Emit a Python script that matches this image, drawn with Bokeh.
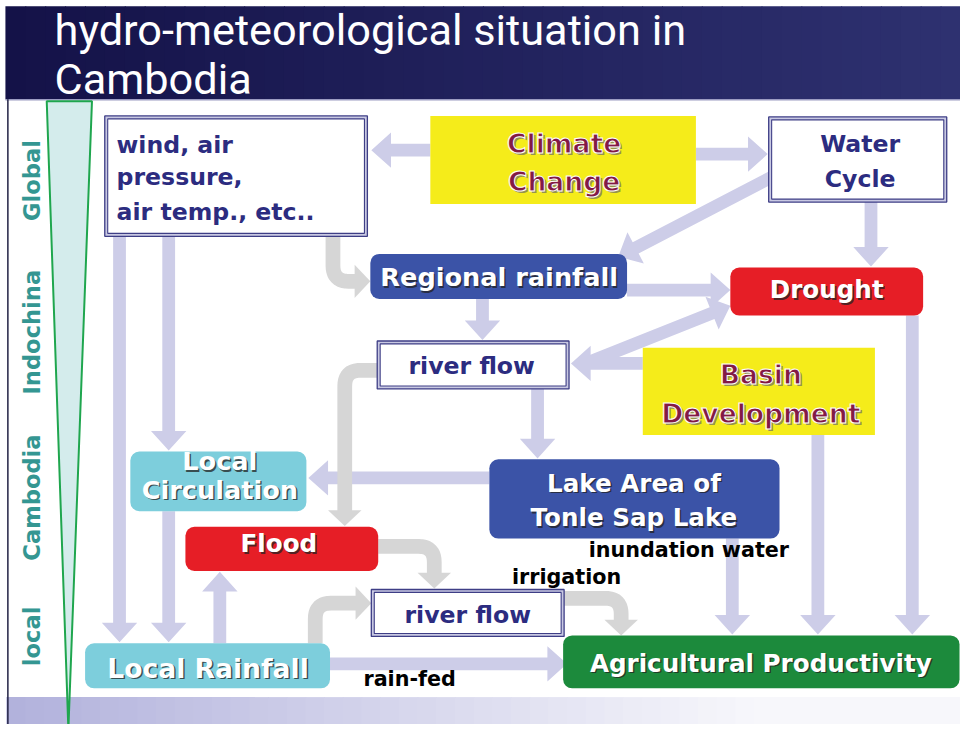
import math
from bokeh.plotting import figure
from bokeh.models import Range1d
from bokeh.core.properties import value
from bokeh.embed import file_html
from bokeh.resources import INLINE

# ---------------- content ----------------
TITLE_LINES = ["hydro-meteorological situation in", "Cambodia"]
SCALE_LABELS = ["Global", "Indochina", "Cambodia", "local"]

NODE_IDS = ["wind", "climate", "water", "regional", "drought", "river1", "basin",
            "localcirc", "lake", "flood", "river2", "localrain", "agri"]
NODE_TEXT = {
    "wind": ["wind, air", "pressure,", "air temp., etc.."],
    "climate": ["Climate", "Change"],
    "water": ["Water", "Cycle"],
    "regional": ["Regional rainfall"],
    "drought": ["Drought"],
    "river1": ["river flow"],
    "basin": ["Basin", "Development"],
    "localcirc": ["Local", "Circulation"],
    "lake": ["Lake Area of", "Tonle Sap Lake"],
    "flood": ["Flood"],
    "river2": ["river flow"],
    "localrain": ["Local Rainfall"],
    "agri": ["Agricultural Productivity"],
}
EDGE_LABELS = ["inundation water", "irrigation", "rain-fed"]

# links: straight (lavender) and elbow (grey)
STRAIGHT_LINKS = [("climate", "wind"), ("climate", "water"), ("water", "regional"),
                  ("water", "drought"), ("regional", "drought"), ("regional", "river1"),
                  ("river1", "drought"), ("basin", "river1"), ("wind", "localrain"),
                  ("wind", "localcirc"), ("localcirc", "localrain"), ("localrain", "flood"),
                  ("lake", "localcirc"), ("river1", "lake"), ("localrain", "agri"),
                  ("lake", "agri"), ("basin", "agri"), ("drought", "agri")]
ELBOW_LINKS = [("wind", "regional"), ("river1", "flood"), ("flood", "river2"),
               ("localrain", "river2"), ("river2", "agri")]

# ---------------- layout (pixel space of the slide, 976 x 740) ----------------
BOX = {  # left, right, top, bottom
    "wind": (106, 373, 118, 241), "climate": (437, 707, 118, 208),
    "water": (781, 962, 119, 206), "regional": (376, 637, 259, 305),
    "drought": (742, 938, 273, 322), "river1": (383, 578, 348, 397),
    "basin": (653, 889, 355, 444), "localcirc": (132, 311, 461, 522),
    "lake": (497, 792, 469, 550), "flood": (188, 384, 538, 583),
    "river2": (377, 573, 602, 650), "localrain": (86, 335, 657, 703),
    "agri": (572, 975, 649, 703),
}
KIND = {"wind": "double", "water": "double", "river1": "double", "river2": "double",
        "climate": "yellow", "basin": "yellow",
        "regional": "blue", "lake": "blue", "drought": "red", "flood": "red",
        "localcirc": "cyan", "localrain": "cyan", "agri": "green"}
FILL = {"yellow": "#f5ec1a", "blue": "#3b53a7", "red": "#e61e26",
        "cyan": "#7dcedc", "green": "#1c8a3c"}
TEXT_POS = {  # x, align, baselines, size
    "wind": (118, "left", [157, 190, 225], 24),
    "climate": (573, "center", [156, 195], 27),
    "water": (874, "center", [156, 192], 24),
    "regional": (507, "center", [293], 26),
    "drought": (840, "center", [305], 25),
    "river1": (479, "center", [383], 24),
    "basin": (773, "center", [393, 432], 27),
    "localcirc": (223, "center", [481, 510], 26),
    "lake": (644, "center", [503, 538], 25),
    "flood": (283, "center", [565], 25),
    "river2": (475, "center", [637], 24),
    "localrain": (211, "center", [693], 27),
    "agri": (773, "center", [687], 25),
}
EDGE_POS = [(598, 570), (520, 597), (369, 701)]
SCALE_POS = [184, 339, 508, 650]

STRAIGHT_GEOM = [((437, 153), (377, 153)), ((707, 157), (780, 157)),
                 ((785, 180), (628, 262)), ((885, 206), (885, 272)),
                 ((637, 296), (742, 296)), ((490, 305), (490, 347)),
                 ((590, 373), (742, 312)), ((653, 371), (580, 371)),
                 ((121, 241), (121, 656)), ((171, 241), (171, 460)),
                 ((171, 522), (171, 656)), ((223, 657), (223, 584)),
                 ((497, 488), (313, 488)), ((546, 397), (546, 468)),
                 ((335, 678), (576, 678)), ((744, 550), (744, 648)),
                 ((831, 444), (831, 648)), ((927, 322), (927, 648))]
ELBOW_GEOM = [[(338, 241), (338, 287), (376, 287)],
              [(383, 378), (350, 378), (350, 537)],
              [(384, 558), (441, 558), (441, 601)],
              [(320, 657), (320, 616), (377, 616)],
              [(573, 611), (631, 611), (631, 649)]]

W, H = 960, 724
SX = W / 976.0
BASE_SHIFT = 0.38   # renderer places alphabetic baseline ~0.38em low
FONT = value("DejaVu Sans")
NAVY = "#2c2c80"
MAROON = "#821a44"
TEAL = "#349692"
LAVENDER = "#cdcde8"
GREY = "#d6d6d6"


def fs(px):
    return "%.1fpx" % (px * SX)


def by(y, size):
    return y - BASE_SHIFT * size


def lerp_hex(c0, c1, t):
    a = [int(c0[i:i + 2], 16) for i in (1, 3, 5)]
    b = [int(c1[i:i + 2], 16) for i in (1, 3, 5)]
    return "#%02x%02x%02x" % tuple(round(a[k] + (b[k] - a[k]) * t) for k in range(3))


def arrow_poly(p0, p1, w, hw, hl):
    (x0, y0), (x1, y1) = p0, p1
    dx, dy = x1 - x0, y1 - y0
    L = math.hypot(dx, dy)
    ux, uy = dx / L, dy / L
    nx, ny = -uy, ux
    bx, by_ = x1 - ux * hl, y1 - uy * hl
    pts = [(x0 + nx * w / 2, y0 + ny * w / 2), (bx + nx * w / 2, by_ + ny * w / 2),
           (bx + nx * hw / 2, by_ + ny * hw / 2), (x1, y1),
           (bx - nx * hw / 2, by_ - ny * hw / 2), (bx - nx * w / 2, by_ - ny * w / 2),
           (x0 - nx * w / 2, y0 - ny * w / 2)]
    return [q[0] for q in pts], [q[1] for q in pts]


def head_poly(tip, d, hw, hl):
    ux, uy = d
    nx, ny = -uy, ux
    bx, by_ = tip[0] - ux * hl, tip[1] - uy * hl
    return ([bx + nx * hw / 2, tip[0], bx - nx * hw / 2],
            [by_ + ny * hw / 2, tip[1], by_ - ny * hw / 2])


def unit(a, b):
    dx, dy = b[0] - a[0], b[1] - a[1]
    L = math.hypot(dx, dy)
    return dx / L, dy / L


def rounded(pts, r, hl, n=10):
    d_last = unit(pts[-2], pts[-1])
    end = (pts[-1][0] - d_last[0] * hl, pts[-1][1] - d_last[1] * hl)
    P = list(pts[:-1]) + [end]
    out = [P[0]]
    for i in range(1, len(P) - 1):
        d1 = unit(P[i - 1], P[i])
        d2 = unit(P[i], P[i + 1])
        a = (P[i][0] - d1[0] * r, P[i][1] - d1[1] * r)
        c = (P[i][0] + d2[0] * r, P[i][1] + d2[1] * r)
        for k in range(n + 1):
            t = k / n
            out.append(((1 - t) ** 2 * a[0] + 2 * (1 - t) * t * P[i][0] + t * t * c[0],
                        (1 - t) ** 2 * a[1] + 2 * (1 - t) * t * P[i][1] + t * t * c[1]))
    out.append(P[-1])
    return [q[0] for q in out], [q[1] for q in out], d_last


p = figure(width=W, height=H, x_range=Range1d(0, 976), y_range=Range1d(740, 0),
           output_backend="svg", toolbar_location=None, min_border=0)
p.axis.visible = False
p.grid.visible = False
p.outline_line_color = None
p.background_fill_color = "white"
p.border_fill_color = "white"

# bottom lavender strip
N = 40
xs = [6 + i * (760 / N) for i in range(N + 1)]
p.quad(left=xs[:-1], right=[x + 1 for x in xs[1:]], top=712, bottom=740,
       color=[lerp_hex("#b2b2dc", "#f6f6fb", i / (N - 1)) for i in range(N)], line_color=None)
p.quad(left=766, right=976, top=712, bottom=740, color="#f7f7fb", line_color=None)

# title band
N = 48
xs = [5 + i * (971 / N) for i in range(N + 1)]
p.quad(left=xs[:-1], right=[x + 1 for x in xs[1:]], top=6, bottom=101,
       color=[lerp_hex("#141248", "#2e3170", i / (N - 1)) for i in range(N)], line_color=None)
p.segment(x0=5, y0=101.5, x1=976, y1=101.5, line_color="#9c9cc2", line_width=1.5)
p.segment(x0=7.5, y0=101, x1=7.5, y1=740, line_color="#222244", line_width=1.5)

p.text(x=[55, 55], y=[by(47, 44), by(97, 44)], text=TITLE_LINES, text_font=value("Roboto"),
       text_font_size=fs(44), text_color="white", text_baseline="alphabetic")

# scale wedge
p.patch(x=[47, 93, 69], y=[103, 103, 745], fill_color="#d4ecec", line_color="#1fa64e", line_width=2)
p.text(x=[32] * 4, y=SCALE_POS, text=SCALE_LABELS, angle=math.pi / 2, text_font=FONT,
       text_font_style="bold", text_font_size=fs(23), text_color=TEAL,
       text_align="center", text_baseline="middle")

# straight lavender arrows
axs, ays = [], []
for (a, b), (p0, p1) in zip(STRAIGHT_LINKS, STRAIGHT_GEOM):
    X, Y = arrow_poly(p0, p1, 13, 36, 20)
    axs.append(X)
    ays.append(Y)
p.patches(xs=axs, ys=ays, fill_color=LAVENDER, line_color=None)

# grey elbow arrows
lxs, lys, hxs, hys = [], [], [], []
for (a, b), pts in zip(ELBOW_LINKS, ELBOW_GEOM):
    X, Y, d = rounded(pts, 16, 14)
    lxs.append(X)
    lys.append(Y)
    hx, hy = head_poly(pts[-1], d, 34, 16)
    hxs.append(hx)
    hys.append(hy)
p.multi_line(xs=lxs, ys=lys, line_color=GREY, line_width=15 * SX, line_join="round")
p.patches(xs=hxs, ys=hys, fill_color=GREY, line_color=None)

# boxes
for nid in NODE_IDS:
    l, r, t, b = BOX[nid]
    k = KIND[nid]
    if k == "double":
        p.quad(left=l, right=r, top=t, bottom=b, fill_color="#c8c8e2", line_color="#3e3e86", line_width=1.3)
        p.quad(left=l + 3, right=r - 3, top=t + 3, bottom=b - 3, fill_color="white",
               line_color="#3e3e86", line_width=1.1)
    elif k == "yellow":
        p.quad(left=l, right=r, top=t, bottom=b, fill_color=FILL[k], line_color=None)
    else:
        p.quad(left=l, right=r, top=t, bottom=b, fill_color=FILL[k], line_color=None,
               border_radius=9)

# node texts
for nid in NODE_IDS:
    x, align, ys, size = TEXT_POS[nid]
    ys = [by(y, size) for y in ys]
    lines = NODE_TEXT[nid]
    k = KIND[nid]
    common = dict(text_font=FONT, text_font_style="bold", text_font_size=fs(size),
                  text_align=align, text_baseline="alphabetic")
    if k == "double":
        p.text(x=[x] * len(lines), y=ys, text=lines, text_color=NAVY, **common)
    elif k == "yellow":
        p.text(x=[x + 2] * len(lines), y=[y + 2 for y in ys], text=lines,
               text_color="#6a6a6a", text_alpha=0.7, **common)
        p.text(x=[x] * len(lines), y=ys, text=lines, text_color=MAROON,
               text_outline_color="white", **common)
    else:
        p.text(x=[x + 1.5] * len(lines), y=[y + 1.5 for y in ys], text=lines,
               text_color="#222222", text_alpha=0.75, **common)
        p.text(x=[x] * len(lines), y=ys, text=lines, text_color="white", **common)

p.text(x=[q[0] for q in EDGE_POS], y=[by(q[1], 21) for q in EDGE_POS], text=EDGE_LABELS,
       text_font=FONT, text_font_style="bold", text_font_size=fs(21), text_color="black",
       text_baseline="alphabetic")

open("out.html", "w").write(file_html(p, INLINE))
